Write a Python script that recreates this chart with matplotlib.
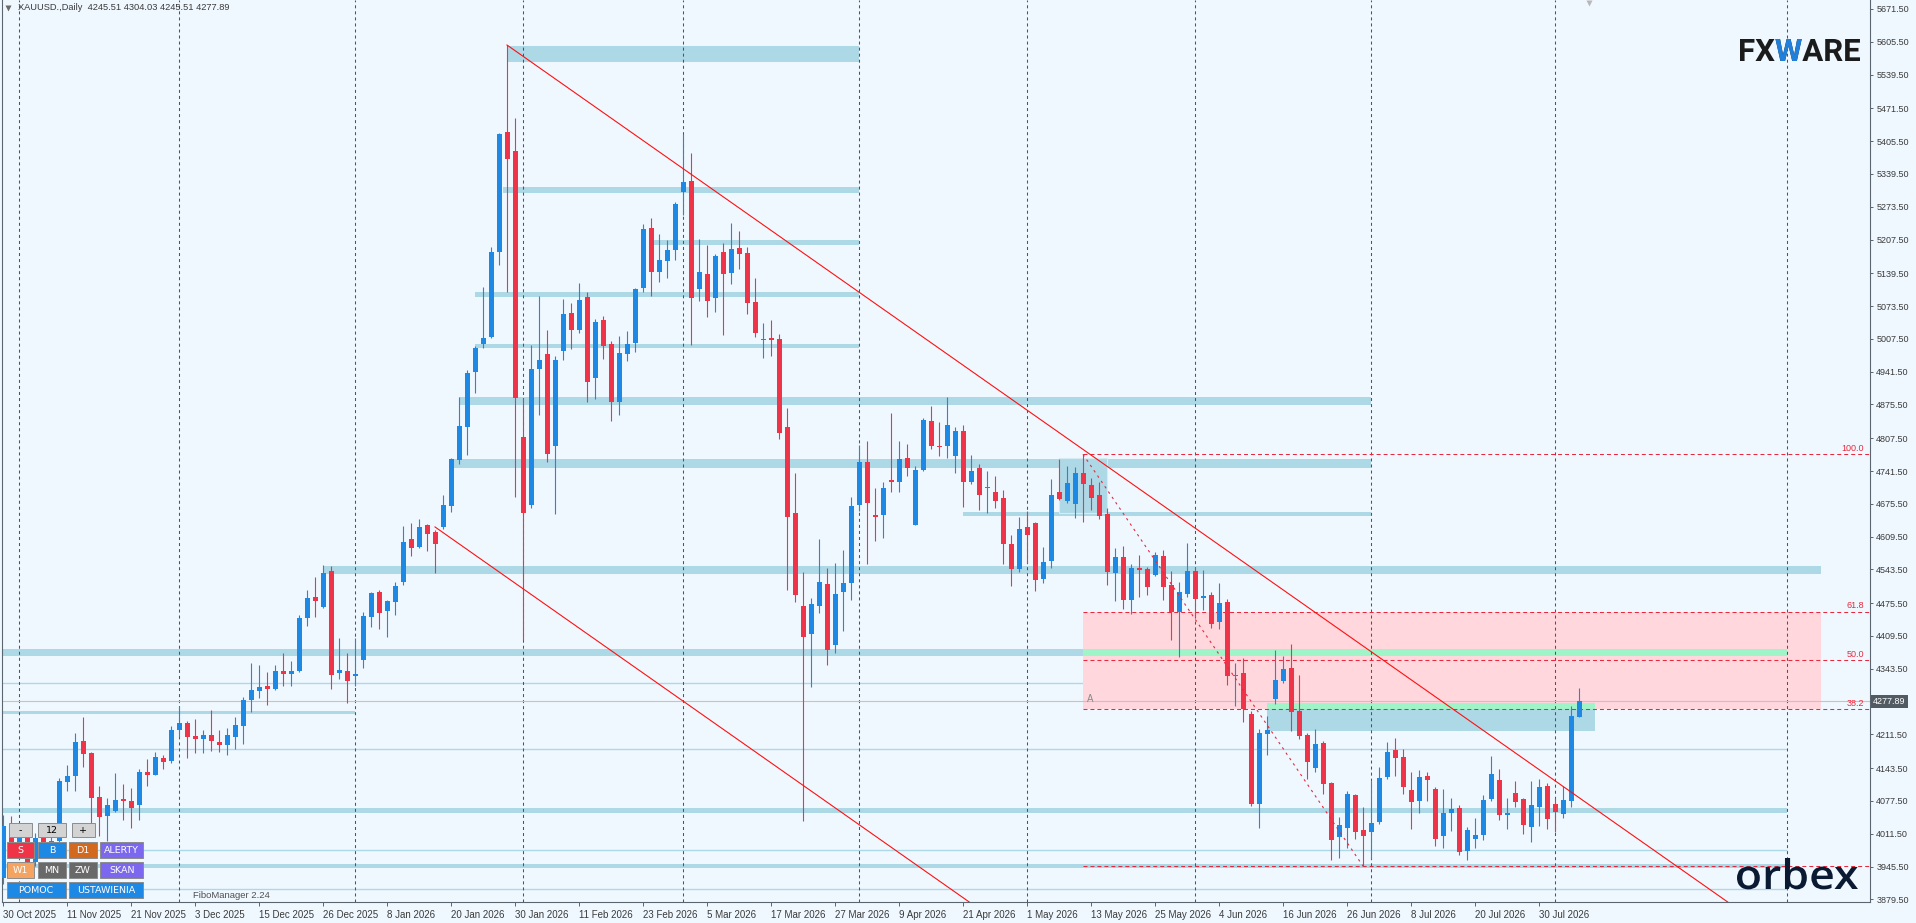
import matplotlib
matplotlib.use("Agg")
import matplotlib.pyplot as plt
import numpy as np
from matplotlib.patches import Rectangle, PathPatch
from matplotlib.textpath import TextPath
from matplotlib.font_manager import FontProperties
from matplotlib.transforms import Affine2D, blended_transform_factory

plt.rcParams['font.family'] = ['Liberation Sans', 'DejaVu Sans']

# ---------------- data ----------------
opens = [3922, 4027, 3979, 4015, 3955, 4003, 3979, 3997, 4116.2, 4127.7,
         4198.1, 4174.0, 4085.4, 4047.7, 4057.2, 4081.4, 4077.4, 4069.9, 4135.7, 4130.3,
         4163.9, 4158.5, 4220.3, 4234.3, 4208.2, 4202.7, 4210.2, 4196.1, 4190.7, 4206.8,
         4228.9, 4280.6, 4298.8, 4308.8, 4302.8, 4339.0, 4333.6, 4339.0, 4445.7, 4488.0,
         4467.8, 4540.3, 4335.0, 4339.0, 4329.0, 4361.1, 4447.7, 4498.0, 4459.8, 4477.9,
         4518.1, 4604.7, 4588.6, 4632.9, 4618.8, 4629.5, 4671.1, 4763.7, 4831.1, 4940.8,
         4998.2, 5011.9, 5183.0, 5423.5, 5385.5, 4811.0, 4673.9, 4946.7, 4977.1, 4791.7,
         4983.9, 5059.4, 5025.4, 5092.4, 4929.7, 5045.7, 4998.2, 4879.6, 4976.3, 4999.2,
         5110.9, 5230.5, 5143.1, 5163.5, 5185.6, 5302.3, 5325.3, 5108.3, 5138.5, 5090.8,
         5182.2, 5140.9, 5190.2, 5180.6, 5081.9, 5006.2, 5009.5, 5007.1, 4830.5, 4657.0,
         4469.8, 4413.5, 4470.7, 4514.5, 4392.0, 4498.6, 4515.3, 4673.7, 4759.7, 4653.0,
         4652.2, 4723.9, 4719.8, 4767.5, 4633.9, 4743.8, 4842.4, 4791.9, 4792.5, 4772.4,
         4822.1, 4720.0, 4747.6, 4708.0, 4699.3, 4687.2, 4594.6, 4544.9, 4628.9, 4636.9,
         4524.8, 4561.0, 4699.3, 4681.8, 4675.7, 4737.6, 4713.4, 4693.3, 4655.0, 4536.9,
         4568.5, 4482.5, 4546.3, 4544.3, 4532.8, 4570.5, 4512.1, 4457.7, 4494.0, 4540.3,
         4486.5, 4491.9, 4438.2, 4477.9, 4329.6, 4335.0, 4252.5, 4071.9, 4212.8, 4283.2,
         4318.8, 4345.0, 4258.5, 4210.2, 4144.4, 4194.1, 4113.6, 4005.5, 4023.6, 4089.4,
         4019.5, 4015.5, 4035.7, 4125.6, 4180.0, 4165.9, 4099.5, 4077.9, 4127.7, 4101.5,
         4007.5, 4053.8, 4063.3, 3977.3, 4001.4, 4009.5, 4082.0, 4119.6, 4049.8, 4093.5,
         4081.4, 4025.6, 4065.9, 4107.5, 4071.3, 4051.8, 4077.9, 4245.51]
highs = [4049, 4047, 4029, 4023, 4013, 4015, 4019, 4124, 4149.8, 4214.8,
         4246.4, 4176.0, 4108.1, 4084.0, 4133.7, 4111.6, 4103.5, 4141.8, 4161.9, 4176.6,
         4169.9, 4227.7, 4268.0, 4238.4, 4242.4, 4220.9, 4260.5, 4220.9, 4224.9, 4246.4,
         4286.6, 4355.7, 4351.1, 4337.0, 4351.1, 4375.2, 4359.1, 4451.7, 4502.1, 4528.8,
         4552.4, 4550.4, 4406.0, 4375.2, 4406.0, 4457.7, 4498.0, 4502.1, 4481.9, 4518.1,
         4631.5, 4637.5, 4645.6, 4635.5, 4622.8, 4693.3, 4767.7, 4890.5, 4943.9, 4992.4,
         5111.9, 5192.4, 5422.0, 5599.0, 5452.3, 4888.1, 4995.0, 5094.0, 5025.4, 4973.0,
         5088.2, 5079.7, 5120.4, 5100.9, 5047.5, 5053.4, 5002.6, 5013.5, 5023.8, 5110.1,
         5238.9, 5250.8, 5218.6, 5206.7, 5283.8, 5420.1, 5382.0, 5209.3, 5196.5, 5178.3,
         5200.5, 5241.1, 5224.4, 5192.6, 5129.6, 5039.9, 5045.3, 5017.5, 4868.6, 4737.4,
         4538.3, 4486.0, 4604.5, 4546.3, 4556.6, 4583.0, 4689.6, 4793.9, 4801.8, 4707.2,
         4719.0, 4858.3, 4801.8, 4795.5, 4750.8, 4848.0, 4872.6, 4840.2, 4890.5, 4830.1,
         4834.2, 4773.8, 4755.7, 4742.2, 4731.5, 4703.3, 4612.7, 4649.0, 4661.1, 4639.5,
         4588.6, 4725.5, 4766.3, 4751.6, 4749.6, 4775.2, 4727.5, 4719.4, 4667.1, 4586.6,
         4590.6, 4554.4, 4573.1, 4548.9, 4579.1, 4582.6, 4540.3, 4518.1, 4596.6, 4549.0,
         4542.3, 4498.0, 4516.1, 4484.5, 4355.1, 4365.2, 4259.1, 4222.9, 4248.4, 4381.2,
         4369.2, 4393.3, 4331.0, 4214.2, 4222.3, 4198.1, 4116.2, 4045.1, 4097.5, 4091.0,
         4065.3, 4117.6, 4145.8, 4196.1, 4204.2, 4182.0, 4135.7, 4139.7, 4135.7, 4105.5,
         4101.5, 4083.4, 4069.3, 4025.0, 4043.1, 4089.4, 4167.9, 4141.8, 4083.4, 4117.6,
         4083.4, 4117.6, 4121.6, 4113.6, 4083.4, 4107.5, 4269.2, 4304.03]
lows = [3910, 3979, 3963, 3947, 3947, 3963, 3969, 3987, 4098.1, 4098.1,
        4146.4, 4008.9, 4007.5, 3996.8, 4055.8, 4039.1, 4023.6, 4039.1, 4108.1, 4129.0,
        4141.8, 4154.5, 4206.8, 4164.5, 4174.6, 4174.6, 4178.6, 4176.6, 4170.5, 4182.6,
        4192.1, 4257.1, 4285.2, 4270.6, 4300.8, 4308.8, 4308.8, 4337.0, 4429.6, 4447.7,
        4466.0, 4302.8, 4322.9, 4274.6, 4308.8, 4345.0, 4427.6, 4423.6, 4407.4, 4451.7,
        4512.1, 4570.5, 4587.0, 4580.5, 4536.3, 4624.8, 4659.0, 4755.7, 4772.8, 4899.2,
        4989.7, 5010.0, 5155.8, 5100.9, 4690.0, 4402.0, 4667.1, 4855.1, 4760.3, 4656.0,
        4965.2, 4988.1, 5020.3, 4879.6, 4887.3, 4967.8, 4843.2, 4855.1, 4962.0, 4982.1,
        5100.9, 5094.8, 5122.8, 5130.5, 5166.9, 5257.4, 4995.8, 5084.4, 5052.5, 5061.2,
        5015.9, 5118.6, 5148.8, 5056.6, 5010.3, 4968.2, 4973.0, 4806.6, 4502.6, 4478.7,
        4037.1, 4306.0, 4455.7, 4351.3, 4376.0, 4419.7, 4482.7, 4661.7, 4555.2, 4601.3,
        4606.7, 4699.9, 4699.9, 4732.5, 4632.0, 4741.0, 4786.7, 4772.4, 4768.4, 4738.1,
        4669.7, 4716.0, 4663.7, 4657.6, 4667.7, 4555.0, 4510.7, 4538.9, 4557.0, 4500.6,
        4516.7, 4547.0, 4684.0, 4677.8, 4647.6, 4639.5, 4663.7, 4645.6, 4512.7, 4480.5,
        4464.4, 4454.3, 4488.6, 4492.6, 4531.0, 4482.5, 4402.0, 4367.8, 4488.6, 4448.3,
        4461.8, 4426.2, 4424.1, 4311.5, 4269.2, 4236.9, 4067.9, 4023.6, 4170.5, 4273.2,
        4314.8, 4218.9, 4202.7, 4121.6, 4136.3, 4091.4, 3959.2, 3963.2, 3983.4, 4001.4,
        3946.5, 3961.2, 4031.7, 4121.6, 4128.3, 4091.4, 4021.6, 4053.8, 4077.9, 3987.4,
        3983.4, 4017.5, 3969.3, 3959.2, 3983.4, 3999.4, 4077.9, 4039.7, 4021.6, 4065.9,
        4011.5, 3995.4, 4027.6, 4021.6, 4015.5, 4043.7, 4065.9, 4245.51]
closes = [4027, 3989, 4015, 3955, 4003, 3979, 3997, 4118, 4127.7, 4196.1,
          4172.6, 4084.0, 4045.7, 4069.3, 4079.4, 4077.4, 4063.9, 4135.7, 4130.3, 4165.9,
          4155.8, 4220.3, 4234.3, 4206.8, 4202.7, 4210.2, 4198.7, 4190.7, 4210.2, 4230.3,
          4280.6, 4300.8, 4306.8, 4303.4, 4339.0, 4333.6, 4339.0, 4445.7, 4486.1, 4480.5,
          4536.3, 4331.0, 4341.0, 4318.9, 4333.0, 4449.7, 4496.0, 4455.7, 4479.9, 4510.1,
          4598.5, 4586.6, 4628.9, 4614.8, 4594.6, 4673.2, 4765.7, 4832.1, 4939.8, 4989.3,
          5009.3, 5182.4, 5420.1, 5369.4, 4888.1, 4657.8, 4946.7, 4965.2, 4776.4, 4965.2,
          5057.6, 5026.2, 5085.6, 4921.1, 5041.5, 4994.0, 4879.6, 4978.9, 4997.4, 5107.5,
          5228.7, 5143.1, 5166.1, 5186.4, 5279.6, 5323.7, 5089.0, 5142.5, 5084.4, 5174.3,
          5138.5, 5188.6, 5179.2, 5080.3, 5019.9, 5007.9, 5006.2, 4818.5, 4649.8, 4493.0,
          4407.8, 4473.9, 4518.5, 4382.3, 4493.8, 4516.1, 4671.3, 4759.7, 4677.6, 4649.8,
          4707.2, 4719.8, 4765.9, 4747.6, 4743.8, 4844.0, 4792.3, 4789.9, 4834.2, 4822.1,
          4720.0, 4741.6, 4693.9, 4709.4, 4681.8, 4595.2, 4544.9, 4624.8, 4613.4, 4522.8,
          4558.4, 4693.3, 4685.8, 4717.4, 4737.6, 4716.0, 4687.8, 4651.6, 4538.3, 4568.5,
          4482.5, 4546.3, 4542.9, 4508.7, 4572.5, 4508.7, 4457.2, 4498.0, 4540.3, 4484.5,
          4489.9, 4434.2, 4475.9, 4329.6, 4331.0, 4261.9, 4071.9, 4214.2, 4220.3, 4320.9,
          4343.0, 4257.1, 4208.8, 4156.5, 4192.1, 4112.2, 3999.4, 4029.0, 4091.4, 4015.5,
          4007.5, 4033.1, 4123.6, 4176.0, 4164.5, 4105.5, 4075.9, 4125.6, 4120.2, 4001.4,
          4053.2, 4061.3, 3975.3, 4019.0, 4008.9, 4079.4, 4131.7, 4049.8, 4053.2, 4075.9,
          4029.6, 4069.3, 4105.5, 4041.7, 4055.8, 4079.4, 4248.4, 4277.89]

date_labels = ['30 Oct 2025', '11 Nov 2025', '21 Nov 2025', '3 Dec 2025', '15 Dec 2025',
               '26 Dec 2025', '8 Jan 2026', '20 Jan 2026', '30 Jan 2026', '11 Feb 2026',
               '23 Feb 2026', '5 Mar 2026', '17 Mar 2026', '27 Mar 2026', '9 Apr 2026',
               '21 Apr 2026', '1 May 2026', '13 May 2026', '25 May 2026', '4 Jun 2026',
               '16 Jun 2026', '26 Jun 2026', '8 Jul 2026', '20 Jul 2026', '30 Jul 2026']
label_step = 8
month_bars = [2, 22, 44, 65, 85, 107, 128, 149, 171, 194, 223]

price_ticks = [5671.5, 5605.5, 5539.5, 5471.5, 5405.5, 5339.5, 5273.5, 5207.5, 5139.5,
               5073.5, 5007.5, 4941.5, 4875.5, 4807.5, 4741.5, 4675.5, 4609.5, 4543.5,
               4475.5, 4409.5, 4343.5, 4211.5, 4143.5, 4077.5, 4011.5, 3945.5, 3879.5]
last_price = 4277.89

# zones drawn on the chart: (top, bottom, first bar, last bar)
zones = [(5597.0, 5565.8, 63, 107), (5313.2, 5302.1, 62.5, 107), (5207.5, 5196.5, 81.25, 107),
         (5101.9, 5092.4, 59, 107), (4997.2, 4989.1, 59, 107), (4890.5, 4875.4, 57, 171),
         (4765.7, 4748.2, 56.25, 171), (4659.0, 4651.6, 120, 171), (4550.4, 4534.9, 40, 227.25),
         (4383.3, 4369.8, -1, 223), (4258.5, 4253.5, -1, 44), (4063.3, 4053.8, -1, 223),
         (3949.9, 3942.4, -1, 223), (4274.6, 4218.8, 158, 199)]
small_box = (4767.1, 4657.6, 132, 138)
thin_levels = [4313.9, 4181.4, 3978.1, 3900.8]
thin_end = 223

fib_bar_hi, fib_hi = 135, 4775.2
fib_bar_lo, fib_lo = 170, 3946.5
fib_ratios = [1.0, 0.618, 0.5, 0.382, 0.0]
fib_names = ['100.0', '61.8', '50.0', '38.2', '']
fib_zone = (0.618, 0.382, 135, 227.25)

trend_lines = [((63, 5599.0), (177, 4310.3)), ((54, 4629.0), (168, 3340.3))]

# ---------------- figure ----------------
W, H = 1916, 923
BG = '#F0F8FF'
BULL = '#1E88E5'
BEAR = '#EF3349'
BAND = '#ADD8E6'
PINK = '#FFD7DD'
MINT = '#A0F5C8'
FRAME = '#5A6570'
TXT = '#3A3A3A'

fig = plt.figure(figsize=(W / 100, H / 100), dpi=100, facecolor=BG)
ax = fig.add_axes([2 / W, (H - 902) / H, 1868 / W, 902 / H])
ax.set_facecolor(BG)
ax.set_xlim(-0.125, 233.375)
ax.set_ylim(3874.1, 5689.6)

# zones
for top, bot, x0, x1 in zones:
    ax.add_patch(Rectangle((x0, bot), x1 - x0, top - bot, fc=BAND, ec='none', zorder=1))
ax.add_patch(Rectangle((small_box[2], small_box[1]), small_box[3] - small_box[2],
                       small_box[0] - small_box[1], fc=BAND, ec='#D6ECF4', lw=0.8, zorder=1.1))

for lv in thin_levels:
    ax.hlines(lv, -1, thin_end, colors=BAND, lw=1.0, zorder=1)

fib_rng = fib_hi - fib_lo
pz_top = fib_lo + fib_zone[0] * fib_rng
pz_bot = fib_lo + fib_zone[1] * fib_rng
ax.add_patch(Rectangle((fib_zone[2], pz_bot), fib_zone[3] - fib_zone[2], pz_top - pz_bot,
                       fc=PINK, ec='none', zorder=1.2))
# overlap of zones and the pink area shows up green
for top, bot, x0, x1 in zones:
    lo, hi = max(bot, pz_bot), min(top, pz_top)
    a, b = max(x0, fib_zone[2]), min(x1, fib_zone[3])
    if hi > lo and b > a:
        ax.add_patch(Rectangle((a, lo), b - a, hi - lo, fc=MINT, ec='none', zorder=1.3))

# month grid
for m in month_bars:
    ax.axvline(m, color='#4A5560', lw=0.75, dashes=(2.9, 2.9), zorder=2)

ax.axhline(last_price, color='#C4C4C4', lw=0.8, zorder=2)

# fibo levels
for r, name in zip(fib_ratios, fib_names):
    lv = fib_lo + r * fib_rng
    ax.hlines(lv, fib_bar_hi, 240, colors='#E8283C', lw=0.75, linestyles=(0, (3.8, 2.9)), zorder=2.5)
    if name:
        ax.text(232.6, lv + 2.5, name, fontsize=6.5, color='#E8283C', ha='right', va='bottom', zorder=5)
ax.plot([fib_bar_hi, fib_bar_lo], [fib_hi, fib_lo], color='#E8283C', lw=0.8,
        dashes=(2.2, 3.6), zorder=4)
ax.text(135.5, 4283, 'A', fontsize=7, color='#8A8A8A', ha='left', va='center', zorder=5)

# candles
x = np.arange(len(opens))
o = np.array(opens); c = np.array(closes)
up = c >= o
cols = np.where(up, BULL, BEAR)
ax.vlines(x, lows, highs, colors=cols, lw=0.8, zorder=3)
ax.bar(x, np.maximum(np.abs(c - o), 2.0), width=0.625, bottom=np.minimum(o, c),
       color=cols, linewidth=0, zorder=3.1)

# trend lines (rays to the right)
for (x1, y1), (x2, y2) in trend_lines:
    k = (y2 - y1) / (x2 - x1)
    ax.plot([x1, 300], [y1, y1 + k * (300 - x1)], color='#FF1010', lw=0.8, zorder=4)

# axes cosmetics
for s in ('left', 'bottom', 'right'):
    ax.spines[s].set_color(FRAME)
    ax.spines[s].set_linewidth(0.8)
ax.spines['top'].set_visible(False)
ax.set_xticks(np.arange(len(date_labels)) * label_step)
ax.set_xticklabels(date_labels)
for t in ax.get_xticklabels():
    t.set_ha('left')
ax.tick_params(axis='x', length=3, width=0.7, color=FRAME, pad=2.5, labelsize=7, labelcolor=TXT)
ax.yaxis.tick_right()
ax.set_yticks(price_ticks)
ax.set_yticklabels(['%.2f' % p for p in price_ticks])
ax.tick_params(axis='y', length=2.5, width=0.7, color=FRAME, pad=2, labelsize=6.5, labelcolor=TXT)

# current price tag
tr = blended_transform_factory(ax.transAxes, ax.transData)
ax.text(1.0015, last_price, '4277.89', transform=tr, fontsize=6.5, color='white', va='center',
        ha='left', clip_on=False, zorder=6,
        bbox=dict(boxstyle='square,pad=0.25', fc='#525A62', ec='none'))

# ---------------- overlay in screen pixels ----------------
ov = fig.add_axes([0, 0, 1, 1], facecolor='none')
ov.set_xlim(0, W)
ov.set_ylim(H, 0)
ov.axis('off')

ov.plot([8.5], [7.5], marker='v', ms=4.5, color='#6A6A6A', mec='none')
ov.text(18, 8, 'XAUUSD.,Daily  4245.51 4304.03 4245.51 4277.89', fontsize=6.7,
        color=TXT, va='center', ha='left')
ov.plot([1589], [3], marker='v', ms=5, color='#B8B8B8', mec='none')


def logo(text, box, family, weight, color, accent=None):
    left, top, right, base = box
    fp = FontProperties(family=family, weight=weight)
    path = TextPath((0, 0), text, size=100, prop=fp)
    ext = path.get_extents()
    sx = (right - left) / ext.width
    sy = (base - top) / ext.y1
    t = Affine2D().translate(-ext.x0, 0).scale(sx, -sy).translate(left, base) + ov.transData
    ov.add_patch(PathPatch(path, transform=t, fc=color, ec='none', zorder=20))
    if accent:
        i0, i1, acol = accent
        xa = TextPath((0, 0), text[:i0], size=100, prop=fp).get_extents().x1 + 1
        xb = TextPath((0, 0), text[:i1], size=100, prop=fp).get_extents().x1 + 1
        pp = PathPatch(path, transform=t, fc=acol, ec='none', zorder=21)
        ov.add_patch(pp)
        clip = Rectangle((xa, -50), xb - xa, 200, transform=t)
        pp.set_clip_path(clip)


logo('FXWARE', (1740, 39, 1860, 61), ['Roboto', 'Liberation Sans'], 'bold', '#1B1B1B',
     accent=(2, 3, '#1F7FDB'))
logo('orbex', (1737, 858, 1858, 889), ['Open Sans', 'Lato', 'DejaVu Sans'], 'semibold', '#0B1A33')

# MT4 panel buttons
buttons = [('-', 9, 823.3, 32.3, 837.3, '#D3D3D3', 'black'),
           ('12', 38.3, 823.3, 65.7, 837.3, '#D3D3D3', 'black'),
           ('+', 71.7, 823.3, 95, 837.3, '#D3D3D3', 'black'),
           ('S', 6.7, 842.3, 34.3, 858.3, '#EE3446', 'white'),
           ('B', 38.3, 842.3, 65.7, 858.3, '#1E88E5', 'white'),
           ('D1', 69.3, 842.3, 96.7, 858.3, '#D2691E', 'white'),
           ('ALERTY', 100, 842.3, 143.3, 858.3, '#7B68EE', 'white'),
           ('W1', 6.7, 862.3, 34.3, 878.3, '#F4A460', 'white'),
           ('MN', 38.3, 862.3, 65.7, 878.3, '#696969', 'white'),
           ('ZW', 69.3, 862.3, 96.7, 878.3, '#696969', 'white'),
           ('SKAN', 100, 862.3, 143.3, 878.3, '#7B68EE', 'white'),
           ('POMOC', 6.7, 882.3, 65.7, 898.3, '#1E88E5', 'white'),
           ('USTAWIENIA', 69.3, 882.3, 143.3, 898.3, '#1E88E5', 'white')]
for lab, x0, y0, x1, y1, fc, tc in buttons:
    ov.add_patch(Rectangle((x0, y0), x1 - x0, y1 - y0, fc=fc, ec='#8C8C8C', lw=0.7, zorder=30))
    ov.text((x0 + x1) / 2, (y0 + y1) / 2 + 0.5, lab, fontsize=6.8, color=tc, ha='center',
            va='center', family='DejaVu Sans', zorder=31)
ov.text(193, 895, 'FiboManager 2.24', fontsize=6.8, color='#505050', ha='left', va='center',
        zorder=31)

fig.savefig('out.png', dpi=100, facecolor=BG)
